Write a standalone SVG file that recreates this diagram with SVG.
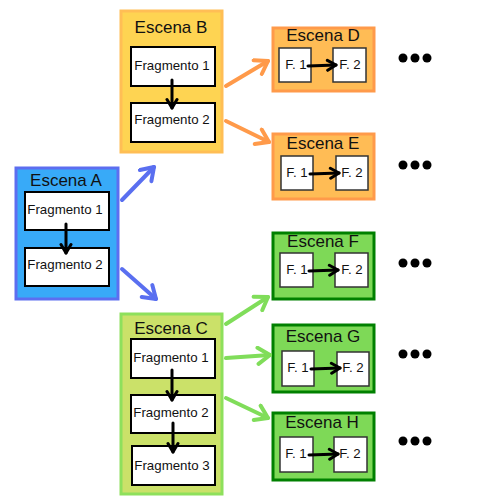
<svg xmlns="http://www.w3.org/2000/svg" width="500" height="500" viewBox="0 0 500 500">
<defs>
<style>
text{font-family:"Liberation Sans",Arial,sans-serif;fill:#111;text-anchor:middle}
.t{font-size:17px}
.f{font-size:13.3px}
.frag{fill:#fff;stroke:#000;stroke-width:2}
.sm{fill:#fff;stroke:#333;stroke-width:1.5}
.sa{fill:#38aaf8;stroke:#5c6ef0;stroke-width:3}
.sb{fill:#fed452;stroke:#ffbe55;stroke-width:3}
.sc{fill:#cbe169;stroke:#8ee05c;stroke-width:3}
.so{fill:#ffbc55;stroke:#ff9a4a;stroke-width:3}
.sg{fill:#7ed957;stroke:#008000;stroke-width:3}
.ab{stroke:#5a6ff0;stroke-width:4;fill:none;stroke-linecap:round}
.ao{stroke:#ff9a4a;stroke-width:4;fill:none;stroke-linecap:round}
.ag{stroke:#80dd5a;stroke-width:4;fill:none;stroke-linecap:round}
.ak{stroke:#000;stroke-width:3;fill:none;stroke-linecap:round}
</style>
<marker id="mb" markerUnits="userSpaceOnUse" markerWidth="20" markerHeight="20" viewBox="0 0 20 20" refX="17" refY="10" orient="auto"><path d="M5,2 L17,10 L5,18" fill="none" stroke="#5a6ff0" stroke-width="4" stroke-linecap="round" stroke-linejoin="round"/></marker>
<marker id="mo" markerUnits="userSpaceOnUse" markerWidth="20" markerHeight="20" viewBox="0 0 20 20" refX="17" refY="10" orient="auto"><path d="M5,2 L17,10 L5,18" fill="none" stroke="#ff9a4a" stroke-width="4" stroke-linecap="round" stroke-linejoin="round"/></marker>
<marker id="mg" markerUnits="userSpaceOnUse" markerWidth="20" markerHeight="20" viewBox="0 0 20 20" refX="17" refY="10" orient="auto"><path d="M5,2 L17,10 L5,18" fill="none" stroke="#80dd5a" stroke-width="4" stroke-linecap="round" stroke-linejoin="round"/></marker>
<marker id="mk" markerUnits="userSpaceOnUse" markerWidth="14" markerHeight="14" viewBox="0 0 14 14" refX="12" refY="7" orient="auto"><path d="M3.5,2 L12,7 L3.5,12" fill="none" stroke="#000" stroke-width="3" stroke-linecap="round" stroke-linejoin="round"/></marker>
</defs>
<rect width="500" height="500" fill="#fff"/>

<g id="escena-a">
<rect class="sa" x="16" y="168" width="102" height="131"/>
<text class="t" x="66" y="186">Escena A</text>
<rect class="frag" x="25" y="192" width="84" height="38"/>
<text class="f" x="65" y="214">Fragmento 1</text>
<rect class="frag" x="25" y="248" width="84" height="38"/>
<text class="f" x="65" y="269">Fragmento 2</text>
</g>

<g id="escena-b">
<rect class="sb" x="121" y="11" width="101" height="141"/>
<text class="t" x="171" y="33">Escena B</text>
<rect class="frag" x="131" y="47" width="84" height="39"/>
<text class="f" x="172" y="70">Fragmento 1</text>
<rect class="frag" x="131" y="103" width="84" height="39"/>
<text class="f" x="172" y="124">Fragmento 2</text>
</g>

<g id="escena-c">
<rect class="sc" x="121" y="314" width="101" height="180"/>
<text class="t" x="171" y="334">Escena C</text>
<rect class="frag" x="131" y="339" width="84" height="39"/>
<text class="f" x="171" y="362">Fragmento 1</text>
<rect class="frag" x="131" y="395" width="84" height="38"/>
<text class="f" x="171" y="417">Fragmento 2</text>
<rect class="frag" x="132" y="446" width="83" height="39"/>
<text class="f" x="172" y="470">Fragmento 3</text>
</g>

<g id="escena-d">
<rect class="so" x="273" y="28" width="101" height="63"/>
<text class="t" x="323" y="41">Escena D</text>
<rect class="sm" x="279" y="48" width="32" height="34"/>
<text class="f" x="296" y="69">F. 1</text>
<rect class="sm" x="333" y="48" width="33" height="34"/>
<text class="f" x="350" y="69">F. 2</text>
</g>

<g id="escena-e">
<rect class="so" x="273" y="134" width="101" height="65"/>
<text class="t" x="323" y="149">Escena E</text>
<rect class="sm" x="281" y="156" width="32" height="34"/>
<text class="f" x="297" y="177">F. 1</text>
<rect class="sm" x="336" y="156" width="32" height="34"/>
<text class="f" x="352" y="177">F. 2</text>
</g>

<g id="escena-f">
<rect class="sg" x="273" y="233" width="101" height="66"/>
<text class="t" x="323" y="247">Escena F</text>
<rect class="sm" x="280" y="253" width="33" height="34"/>
<text class="f" x="297" y="274">F. 1</text>
<rect class="sm" x="335" y="253" width="33" height="34"/>
<text class="f" x="352" y="274">F. 2</text>
</g>

<g id="escena-g">
<rect class="sg" x="273" y="325" width="101" height="67"/>
<text class="t" x="323" y="342">Escena G</text>
<rect class="sm" x="282" y="351" width="32" height="35"/>
<text class="f" x="298" y="372">F. 1</text>
<rect class="sm" x="337" y="352" width="32" height="34"/>
<text class="f" x="353" y="372">F. 2</text>
</g>

<g id="escena-h">
<rect class="sg" x="273" y="413" width="101" height="67"/>
<text class="t" x="322" y="428">Escena H</text>
<rect class="sm" x="280" y="437" width="33" height="35"/>
<text class="f" x="296" y="458">F. 1</text>
<rect class="sm" x="334" y="437" width="33" height="35"/>
<text class="f" x="350" y="458">F. 2</text>
</g>

<g id="dots" fill="#000">
<circle cx="403" cy="58" r="4.5"/><circle cx="415" cy="58" r="4.5"/><circle cx="427" cy="58" r="4.5"/>
<circle cx="403" cy="165" r="4.5"/><circle cx="415" cy="165" r="4.5"/><circle cx="427" cy="165" r="4.5"/>
<circle cx="403" cy="263" r="4.5"/><circle cx="415" cy="263" r="4.5"/><circle cx="427" cy="263" r="4.5"/>
<circle cx="403" cy="354" r="4.5"/><circle cx="415" cy="354" r="4.5"/><circle cx="427" cy="354" r="4.5"/>
<circle cx="403" cy="441" r="4.5"/><circle cx="415" cy="441" r="4.5"/><circle cx="427" cy="441" r="4.5"/>
</g>

<g id="connectors">
<line class="ab" x1="122" y1="200" x2="154" y2="167" marker-end="url(#mb)"/>
<line class="ab" x1="122" y1="269" x2="156" y2="299" marker-end="url(#mb)"/>
<line class="ao" x1="226" y1="86" x2="268" y2="61" marker-end="url(#mo)"/>
<line class="ao" x1="226" y1="121" x2="269" y2="142" marker-end="url(#mo)"/>
<line class="ag" x1="226" y1="324" x2="268" y2="297" marker-end="url(#mg)"/>
<line class="ag" x1="226" y1="358" x2="270" y2="355" marker-end="url(#mg)"/>
<line class="ag" x1="226" y1="398" x2="268" y2="418" marker-end="url(#mg)"/>
<line class="ak" x1="66" y1="224" x2="66" y2="253" marker-end="url(#mk)"/>
<line class="ak" x1="172" y1="80" x2="172" y2="108" marker-end="url(#mk)"/>
<line class="ak" x1="172" y1="370" x2="172" y2="400" marker-end="url(#mk)"/>
<line class="ak" x1="173" y1="423" x2="173" y2="452" marker-end="url(#mk)"/>
<line class="ak" x1="308" y1="66" x2="336" y2="65" marker-end="url(#mk)"/>
<line class="ak" x1="310" y1="174" x2="339" y2="173" marker-end="url(#mk)"/>
<line class="ak" x1="309" y1="271" x2="338" y2="270" marker-end="url(#mk)"/>
<line class="ak" x1="311" y1="369" x2="340" y2="368" marker-end="url(#mk)"/>
<line class="ak" x1="309" y1="455" x2="338" y2="454" marker-end="url(#mk)"/>
</g>
</svg>
